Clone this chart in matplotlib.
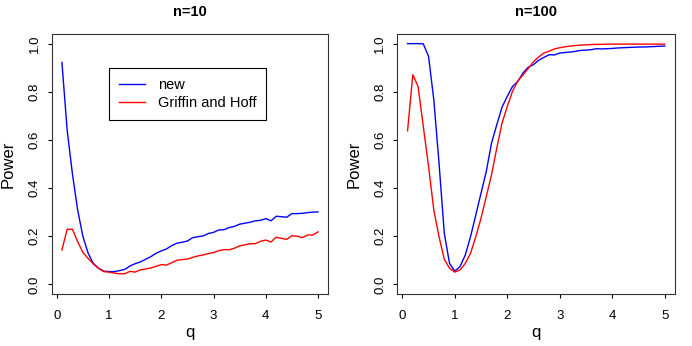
import numpy as np
import matplotlib
matplotlib.use("Agg")
import matplotlib.pyplot as plt

plt.rcParams['font.family'] = ['Liberation Sans', 'DejaVu Sans']

# q grid 0.1 .. 5.0
q = np.round(np.arange(1, 51) * 0.1, 1)

# n=10
new_10 = [0.922, 0.64, 0.46, 0.31, 0.20, 0.13, 0.087, 0.067, 0.055, 0.053,
          0.053, 0.057, 0.062, 0.076, 0.086, 0.093, 0.104, 0.115, 0.129, 0.139,
          0.147, 0.161, 0.171, 0.175, 0.180, 0.194, 0.198, 0.201, 0.211, 0.216,
          0.226, 0.227, 0.236, 0.241, 0.250, 0.254, 0.258, 0.264, 0.266, 0.273,
          0.264, 0.283, 0.281, 0.279, 0.294, 0.294, 0.295, 0.298, 0.300, 0.301]
gh_10 = [0.143, 0.229, 0.229, 0.178, 0.133, 0.108, 0.085, 0.067, 0.053, 0.051,
         0.047, 0.044, 0.044, 0.054, 0.051, 0.060, 0.064, 0.068, 0.075, 0.082,
         0.080, 0.090, 0.100, 0.103, 0.105, 0.112, 0.118, 0.122, 0.128, 0.132,
         0.140, 0.144, 0.144, 0.150, 0.160, 0.164, 0.169, 0.169, 0.179, 0.184,
         0.176, 0.196, 0.191, 0.187, 0.202, 0.200, 0.194, 0.205, 0.205, 0.218]

# n=100
new_100 = [1.0, 1.0, 1.0, 0.999, 0.947, 0.767, 0.503, 0.212, 0.087, 0.055,
           0.074, 0.122, 0.198, 0.288, 0.379, 0.469, 0.587, 0.663, 0.736, 0.781,
           0.822, 0.843, 0.878, 0.902, 0.913, 0.931, 0.943, 0.954, 0.953, 0.961,
           0.963, 0.965, 0.968, 0.972, 0.973, 0.975, 0.979, 0.978, 0.979, 0.980,
           0.982, 0.983, 0.984, 0.985, 0.986, 0.986, 0.987, 0.988, 0.989, 0.990]
gh_100 = [0.638, 0.871, 0.822, 0.656, 0.490, 0.309, 0.198, 0.104, 0.067, 0.051,
          0.060, 0.087, 0.129, 0.198, 0.275, 0.365, 0.455, 0.566, 0.670, 0.739,
          0.802, 0.845, 0.870, 0.897, 0.925, 0.945, 0.961, 0.969, 0.978, 0.983,
          0.987, 0.990, 0.992, 0.994, 0.995, 0.996, 0.997, 0.997, 0.998, 0.998,
          0.998, 0.998, 0.998, 0.998, 0.998, 0.998, 0.998, 0.998, 0.998, 0.998]

fig = plt.figure(figsize=(6.92, 3.46), dpi=100)
ax1 = fig.add_axes([0.0747, 0.1503, 0.3997, 0.7514])
ax2 = fig.add_axes([0.5741, 0.1503, 0.4013, 0.7514])

for ax, blue, red, title in [(ax1, new_10, gh_10, 'n=10'), (ax2, new_100, gh_100, 'n=100')]:
    ax.plot(q, blue, color='blue', lw=1, label='new')
    ax.plot(q, red, color='red', lw=1, label='Griffin and Hoff')
    ax.set_xlim(-0.096, 5.196)
    ax.set_ylim(-0.04, 1.04)
    ax.set_xticks([0, 1, 2, 3, 4, 5])
    ax.set_yticks([0.0, 0.2, 0.4, 0.6, 0.8, 1.0])
    ax.set_yticklabels(['0.0', '0.2', '0.4', '0.6', '0.8', '1.0'], rotation=90, va='center')
    ax.tick_params(direction='out', length=3, width=0.8, labelsize=9.5)
    ax.tick_params(axis='x', pad=8.5)
    ax.tick_params(axis='y', pad=5)
    for s in ax.spines.values():
        s.set_linewidth(0.8)
        s.set_color('#333333')
    ax.set_title(title, fontsize=10.5, fontweight='bold', pad=13)
    ax.set_xlabel('q', fontsize=12, labelpad=2)
    ax.set_ylabel('Power', fontsize=12, labelpad=9)

leg = ax1.legend(bbox_to_anchor=(0.207, 0.669, 0.5666, 0.201), loc='upper left', mode='expand',
                 fancybox=False, edgecolor='black', fontsize=10.5, handlelength=1.8,
                 handletextpad=0.85, labelspacing=0.25, borderpad=0.7,
                 borderaxespad=0, framealpha=1)
leg.get_frame().set_linewidth(0.8)

fig.savefig('out.png', dpi=100)
